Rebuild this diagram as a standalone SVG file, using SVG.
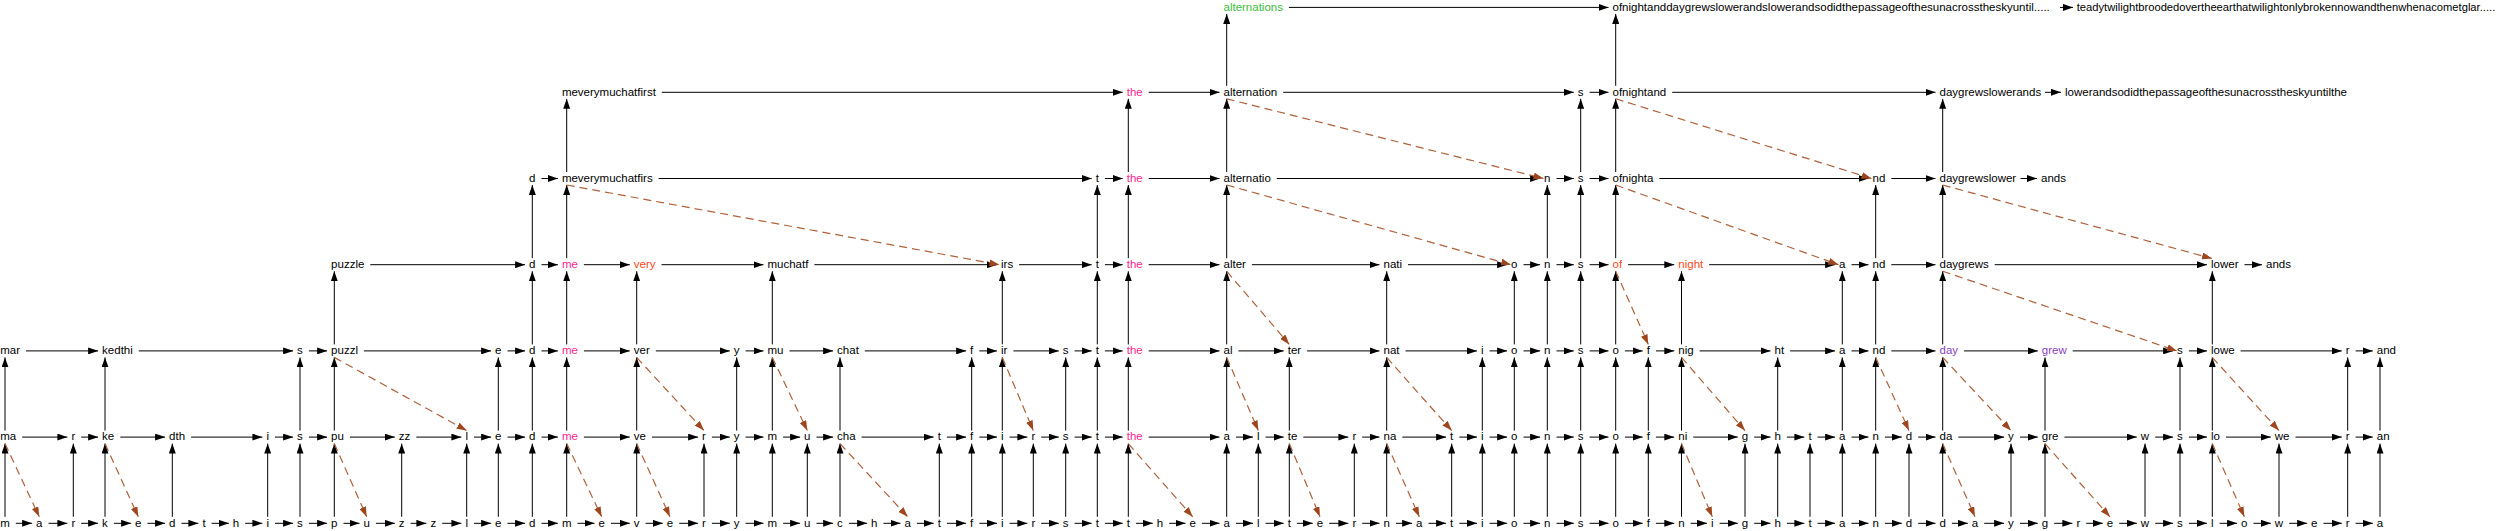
<svg xmlns="http://www.w3.org/2000/svg" width="2500" height="531" viewBox="0 0 2500 531">
<defs>
<style>
text{font-family:"Liberation Sans",Arial,sans-serif;font-size:11.5px;fill:#000}
.pk{fill:#ff1f8f}.or{fill:#ff4a1a}.pu{fill:#8a3fc8}.gr{fill:#3cbf3c}
.e{stroke:#000;stroke-width:1;fill:none;marker-end:url(#ah)}
.d{stroke:#b0603a;stroke-width:1.2;stroke-dasharray:8,5;fill:none;marker-end:url(#ahd)}
</style>
<marker id="ah" viewBox="0 0 10 7" refX="10" refY="3.5" markerWidth="10" markerHeight="7" markerUnits="userSpaceOnUse" orient="auto"><path d="M0,0L10,3.5L0,7z" fill="#000"/></marker>
<marker id="ahd" viewBox="0 0 10 7" refX="10" refY="3.5" markerWidth="10" markerHeight="7" markerUnits="userSpaceOnUse" orient="auto"><path d="M0,0L10,3.5L0,7z" fill="#a0461e"/></marker>
</defs>
<rect width="2500" height="531" fill="#fff"/>
<g id="edges">
<!-- row0 horizontal -->
<path class="e" d="M15.8 523.3H32.1"/><path class="e" d="M48.5 523.3H67.4"/><path class="e" d="M81.2 523.3H98.1"/><path class="e" d="M113.9 523.3H131.1"/><path class="e" d="M147.5 523.3H165.1"/><path class="e" d="M181.5 523.3H198.4"/><path class="e" d="M211.6 523.3H228.8"/><path class="e" d="M245.2 523.3H262.4"/><path class="e" d="M275 523.3H293.1"/><path class="e" d="M308.9 523.3H327.1"/><path class="e" d="M343.5 523.3H359.5"/><path class="e" d="M375.9 523.3H394.8"/><path class="e" d="M410.6 523.3H426.4"/><path class="e" d="M442.2 523.3H461.4"/><path class="e" d="M474 523.3H491.1"/><path class="e" d="M507.5 523.3H525.1"/><path class="e" d="M541.5 523.3H557.9"/><path class="e" d="M577.5 523.3H594.5"/><path class="e" d="M610.9 523.3H629.8"/><path class="e" d="M645.6 523.3H662.8"/><path class="e" d="M679.2 523.3H698.1"/><path class="e" d="M711.9 523.3H729.8"/><path class="e" d="M745.6 523.3H763.5"/><path class="e" d="M783.1 523.3H800.1"/><path class="e" d="M816.5 523.3H833.1"/><path class="e" d="M848.9 523.3H867.1"/><path class="e" d="M883.5 523.3H900.5"/><path class="e" d="M916.9 523.3H933.7"/><path class="e" d="M946.9 523.3H966.1"/><path class="e" d="M979.3 523.3H997"/><path class="e" d="M1009.6 523.3H1027.4"/><path class="e" d="M1041.2 523.3H1058.8"/><path class="e" d="M1074.6 523.3H1091.7"/><path class="e" d="M1104.9 523.3H1122.7"/><path class="e" d="M1135.9 523.3H1152.8"/><path class="e" d="M1169.2 523.3H1185.5"/><path class="e" d="M1201.9 523.3H1219.5"/><path class="e" d="M1235.9 523.3H1253"/><path class="e" d="M1265.6 523.3H1283.7"/><path class="e" d="M1296.9 523.3H1312.8"/><path class="e" d="M1329.2 523.3H1348.4"/><path class="e" d="M1362.2 523.3H1379.5"/><path class="e" d="M1395.9 523.3H1412.1"/><path class="e" d="M1428.5 523.3H1446.1"/><path class="e" d="M1459.3 523.3H1477"/><path class="e" d="M1489.6 523.3H1507.1"/><path class="e" d="M1523.5 523.3H1540.1"/><path class="e" d="M1556.5 523.3H1573.8"/><path class="e" d="M1589.6 523.3H1608.5"/><path class="e" d="M1624.9 523.3H1642.7"/><path class="e" d="M1655.9 523.3H1674.3"/><path class="e" d="M1690.7 523.3H1707"/><path class="e" d="M1719.6 523.3H1737.8"/><path class="e" d="M1754.2 523.3H1770.5"/><path class="e" d="M1786.9 523.3H1804.4"/><path class="e" d="M1817.6 523.3H1835.1"/><path class="e" d="M1851.5 523.3H1868.5"/><path class="e" d="M1884.9 523.3H1901.8"/><path class="e" d="M1918.2 523.3H1935.5"/><path class="e" d="M1951.9 523.3H1967.8"/><path class="e" d="M1984.2 523.3H2004.1"/><path class="e" d="M2019.9 523.3H2037.8"/><path class="e" d="M2054.2 523.3H2072.4"/><path class="e" d="M2086.2 523.3H2102.8"/><path class="e" d="M2119.2 523.3H2136.9"/><path class="e" d="M2155.2 523.3H2173.1"/><path class="e" d="M2188.9 523.3H2207"/><path class="e" d="M2219.6 523.3H2237.1"/><path class="e" d="M2253.5 523.3H2270.9"/><path class="e" d="M2289.2 523.3H2307.1"/><path class="e" d="M2323.5 523.3H2341.8"/><path class="e" d="M2355.6 523.3H2372.8"/>
<!-- row1 horizontal -->
<path class="e" d="M22.2 437.1H67.4"/><path class="e" d="M81.2 437.1H98.1"/><path class="e" d="M120.3 437.1H165.1"/><path class="e" d="M191.1 437.1H262.4"/><path class="e" d="M275 437.1H293.1"/><path class="e" d="M308.9 437.1H327.1"/><path class="e" d="M349.9 437.1H394.8"/><path class="e" d="M416.3 437.1H461.4"/><path class="e" d="M474 437.1H491.1"/><path class="e" d="M507.5 437.1H525.1"/><path class="e" d="M541.5 437.1H557.9"/><path class="e" d="M583.9 437.1H629.8"/><path class="e" d="M652 437.1H698.1"/><path class="e" d="M711.9 437.1H729.8"/><path class="e" d="M745.6 437.1H763.5"/><path class="e" d="M783.1 437.1H800.1"/><path class="e" d="M816.5 437.1H833.1"/><path class="e" d="M861.6 437.1H933.7"/><path class="e" d="M946.9 437.1H966.1"/><path class="e" d="M979.3 437.1H997"/><path class="e" d="M1009.6 437.1H1027.4"/><path class="e" d="M1041.2 437.1H1058.8"/><path class="e" d="M1074.6 437.1H1091.7"/><path class="e" d="M1104.9 437.1H1122.7"/><path class="e" d="M1148.7 437.1H1219.5"/><path class="e" d="M1235.9 437.1H1253"/><path class="e" d="M1265.6 437.1H1283.7"/><path class="e" d="M1303.3 437.1H1348.4"/><path class="e" d="M1362.2 437.1H1379.5"/><path class="e" d="M1402.3 437.1H1446.1"/><path class="e" d="M1459.3 437.1H1477"/><path class="e" d="M1489.6 437.1H1507.1"/><path class="e" d="M1523.5 437.1H1540.1"/><path class="e" d="M1556.5 437.1H1573.8"/><path class="e" d="M1589.6 437.1H1608.5"/><path class="e" d="M1624.9 437.1H1642.7"/><path class="e" d="M1655.9 437.1H1674.3"/><path class="e" d="M1693.2 437.1H1737.8"/><path class="e" d="M1754.2 437.1H1770.5"/><path class="e" d="M1786.9 437.1H1804.4"/><path class="e" d="M1817.6 437.1H1835.1"/><path class="e" d="M1851.5 437.1H1868.5"/><path class="e" d="M1884.9 437.1H1901.8"/><path class="e" d="M1918.2 437.1H1935.5"/><path class="e" d="M1958.3 437.1H2004.1"/><path class="e" d="M2019.9 437.1H2037.8"/><path class="e" d="M2064.4 437.1H2136.8"/><path class="e" d="M2155.2 437.1H2173.1"/><path class="e" d="M2188.9 437.1H2207"/><path class="e" d="M2225.9 437.1H2270.8"/><path class="e" d="M2295.5 437.1H2341.8"/><path class="e" d="M2355.6 437.1H2372.8"/>
<!-- row2 horizontal -->
<path class="e" d="M26 350.9H98.1"/><path class="e" d="M138.8 350.9H293.1"/><path class="e" d="M308.9 350.9H327.1"/><path class="e" d="M363.9 350.9H491.1"/><path class="e" d="M507.5 350.9H525.1"/><path class="e" d="M541.5 350.9H557.9"/><path class="e" d="M583.9 350.9H629.8"/><path class="e" d="M655.8 350.9H729.8"/><path class="e" d="M745.6 350.9H763.5"/><path class="e" d="M789.5 350.9H833.1"/><path class="e" d="M864.8 350.9H966.1"/><path class="e" d="M979.3 350.9H997"/><path class="e" d="M1013.4 350.9H1058.8"/><path class="e" d="M1074.6 350.9H1091.7"/><path class="e" d="M1104.9 350.9H1122.7"/><path class="e" d="M1148.7 350.9H1219.5"/><path class="e" d="M1238.4 350.9H1283.7"/><path class="e" d="M1307.1 350.9H1379.5"/><path class="e" d="M1405.5 350.9H1477"/><path class="e" d="M1489.6 350.9H1507.1"/><path class="e" d="M1523.5 350.9H1540.1"/><path class="e" d="M1556.5 350.9H1573.8"/><path class="e" d="M1589.6 350.9H1608.5"/><path class="e" d="M1624.9 350.9H1642.7"/><path class="e" d="M1655.9 350.9H1674.3"/><path class="e" d="M1699.6 350.9H1770.5"/><path class="e" d="M1790.1 350.9H1835.1"/><path class="e" d="M1851.5 350.9H1868.5"/><path class="e" d="M1891.3 350.9H1935.5"/><path class="e" d="M1964 350.9H2037.8"/><path class="e" d="M2072.7 350.9H2173.1"/><path class="e" d="M2188.9 350.9H2207"/><path class="e" d="M2240.6 350.9H2341.8"/><path class="e" d="M2355.6 350.9H2372.8"/>
<!-- row3 horizontal -->
<path class="e" d="M370.3 264.7H525.1"/><path class="e" d="M541.5 264.7H557.9"/><path class="e" d="M583.9 264.7H629.8"/><path class="e" d="M661.5 264.7H763.5"/><path class="e" d="M814.4 264.7H997"/><path class="e" d="M1019.1 264.7H1091.7"/><path class="e" d="M1104.9 264.7H1122.7"/><path class="e" d="M1148.7 264.7H1219.5"/><path class="e" d="M1251.9 264.7H1379.5"/><path class="e" d="M1408 264.7H1507.1"/><path class="e" d="M1523.5 264.7H1540.1"/><path class="e" d="M1556.5 264.7H1573.8"/><path class="e" d="M1589.6 264.7H1608.5"/><path class="e" d="M1628.1 264.7H1674.3"/><path class="e" d="M1709.2 264.7H1835.1"/><path class="e" d="M1851.5 264.7H1868.5"/><path class="e" d="M1891.3 264.7H1935.5"/><path class="e" d="M1994.7 264.7H2207"/><path class="e" d="M2244.5 264.7H2262"/>
<!-- row4 horizontal -->
<path class="e" d="M541.5 178.5H557.9"/><path class="e" d="M658.6 178.5H1091.7"/><path class="e" d="M1104.9 178.5H1122.7"/><path class="e" d="M1148.7 178.5H1219.5"/><path class="e" d="M1276.8 178.5H1540.1"/><path class="e" d="M1556.5 178.5H1573.8"/><path class="e" d="M1589.6 178.5H1608.5"/><path class="e" d="M1659.4 178.5H1868.5"/><path class="e" d="M1891.3 178.5H1935.5"/><path class="e" d="M2020.5 178.5H2037"/>
<!-- row5 horizontal -->
<path class="e" d="M661.8 92.3H1122.7"/><path class="e" d="M1148.7 92.3H1219.5"/><path class="e" d="M1283.2 92.3H1573.8"/><path class="e" d="M1589.6 92.3H1608.5"/><path class="e" d="M1672.2 92.3H1935.5"/><path class="e" d="M2045 92.3H2061"/>
<!-- row6 horizontal -->
<path class="e" d="M1288.9 7.4H1608.5"/><path class="e" d="M2060 7.4H2073"/>
<!-- verticals 0-1 -->
<path class="e" d="M5 516.8V443.6"/><path class="e" d="M73.3 516.8V443.6"/><path class="e" d="M105 516.8V443.6"/><path class="e" d="M172.3 516.8V443.6"/><path class="e" d="M267.7 516.8V443.6"/><path class="e" d="M300 516.8V443.6"/><path class="e" d="M334.3 516.8V443.6"/><path class="e" d="M401.7 516.8V443.6"/><path class="e" d="M466.7 516.8V443.6"/><path class="e" d="M498.3 516.8V443.6"/><path class="e" d="M532.3 516.8V443.6"/><path class="e" d="M566.7 516.8V443.6"/><path class="e" d="M636.7 516.8V443.6"/><path class="e" d="M704 516.8V443.6"/><path class="e" d="M736.7 516.8V443.6"/><path class="e" d="M772.3 516.8V443.6"/><path class="e" d="M807.3 516.8V443.6"/><path class="e" d="M840 516.8V443.6"/><path class="e" d="M939.3 516.8V443.6"/><path class="e" d="M971.7 516.8V443.6"/><path class="e" d="M1002.3 516.8V443.6"/><path class="e" d="M1033.3 516.8V443.6"/><path class="e" d="M1065.7 516.8V443.6"/><path class="e" d="M1097.3 516.8V443.6"/><path class="e" d="M1128.3 516.8V443.6"/><path class="e" d="M1226.7 516.8V443.6"/><path class="e" d="M1258.3 516.8V443.6"/><path class="e" d="M1289.3 516.8V443.6"/><path class="e" d="M1354.3 516.8V443.6"/><path class="e" d="M1386.7 516.8V443.6"/><path class="e" d="M1451.7 516.8V443.6"/><path class="e" d="M1482.3 516.8V443.6"/><path class="e" d="M1514.3 516.8V443.6"/><path class="e" d="M1547.3 516.8V443.6"/><path class="e" d="M1580.7 516.8V443.6"/><path class="e" d="M1615.7 516.8V443.6"/><path class="e" d="M1648.3 516.8V443.6"/><path class="e" d="M1681.5 516.8V443.6"/><path class="e" d="M1745 516.8V443.6"/><path class="e" d="M1777.7 516.8V443.6"/><path class="e" d="M1810 516.8V443.6"/><path class="e" d="M1842.3 516.8V443.6"/><path class="e" d="M1875.7 516.8V443.6"/><path class="e" d="M1909 516.8V443.6"/><path class="e" d="M1942.7 516.8V443.6"/><path class="e" d="M2011 516.8V443.6"/><path class="e" d="M2045 516.8V443.6"/><path class="e" d="M2145 516.8V443.6"/><path class="e" d="M2180 516.8V443.6"/><path class="e" d="M2212.3 516.8V443.6"/><path class="e" d="M2279 516.8V443.6"/><path class="e" d="M2347.7 516.8V443.6"/><path class="e" d="M2380 516.8V443.6"/>
<!-- verticals 1-2 -->
<path class="e" d="M5 430.6V357.4"/><path class="e" d="M105 430.6V357.4"/><path class="e" d="M300 430.6V357.4"/><path class="e" d="M334.3 430.6V357.4"/><path class="e" d="M498.3 430.6V357.4"/><path class="e" d="M532.3 430.6V357.4"/><path class="e" d="M566.7 430.6V357.4"/><path class="e" d="M636.7 430.6V357.4"/><path class="e" d="M736.7 430.6V357.4"/><path class="e" d="M772.3 430.6V357.4"/><path class="e" d="M840 430.6V357.4"/><path class="e" d="M971.7 430.6V357.4"/><path class="e" d="M1002.3 430.6V357.4"/><path class="e" d="M1065.7 430.6V357.4"/><path class="e" d="M1097.3 430.6V357.4"/><path class="e" d="M1128.3 430.6V357.4"/><path class="e" d="M1226.7 430.6V357.4"/><path class="e" d="M1289.3 430.6V357.4"/><path class="e" d="M1386.7 430.6V357.4"/><path class="e" d="M1482.3 430.6V357.4"/><path class="e" d="M1514.3 430.6V357.4"/><path class="e" d="M1547.3 430.6V357.4"/><path class="e" d="M1580.7 430.6V357.4"/><path class="e" d="M1615.7 430.6V357.4"/><path class="e" d="M1648.3 430.6V357.4"/><path class="e" d="M1681.5 430.6V357.4"/><path class="e" d="M1777.7 430.6V357.4"/><path class="e" d="M1842.3 430.6V357.4"/><path class="e" d="M1875.7 430.6V357.4"/><path class="e" d="M1942.7 430.6V357.4"/><path class="e" d="M2045 430.6V357.4"/><path class="e" d="M2180 430.6V357.4"/><path class="e" d="M2212.3 430.6V357.4"/><path class="e" d="M2347.7 430.6V357.4"/><path class="e" d="M2380 430.6V357.4"/>
<!-- verticals 2-3 -->
<path class="e" d="M334.3 344.4V271.2"/><path class="e" d="M532.3 344.4V271.2"/><path class="e" d="M566.7 344.4V271.2"/><path class="e" d="M636.7 344.4V271.2"/><path class="e" d="M772.3 344.4V271.2"/><path class="e" d="M1002.3 344.4V271.2"/><path class="e" d="M1097.3 344.4V271.2"/><path class="e" d="M1128.3 344.4V271.2"/><path class="e" d="M1226.7 344.4V271.2"/><path class="e" d="M1386.7 344.4V271.2"/><path class="e" d="M1514.3 344.4V271.2"/><path class="e" d="M1547.3 344.4V271.2"/><path class="e" d="M1580.7 344.4V271.2"/><path class="e" d="M1615.7 344.4V271.2"/><path class="e" d="M1681.5 344.4V271.2"/><path class="e" d="M1842.3 344.4V271.2"/><path class="e" d="M1875.7 344.4V271.2"/><path class="e" d="M1942.7 344.4V271.2"/><path class="e" d="M2212.3 344.4V271.2"/>
<!-- verticals 3-4 -->
<path class="e" d="M532.3 258.2V185"/><path class="e" d="M566.7 258.2V185"/><path class="e" d="M1097.3 258.2V185"/><path class="e" d="M1128.3 258.2V185"/><path class="e" d="M1226.7 258.2V185"/><path class="e" d="M1547.3 258.2V185"/><path class="e" d="M1580.7 258.2V185"/><path class="e" d="M1615.7 258.2V185"/><path class="e" d="M1875.7 258.2V185"/><path class="e" d="M1942.7 258.2V185"/>
<!-- verticals 4-5 -->
<path class="e" d="M566.7 172V98.8"/><path class="e" d="M1128.3 172V98.8"/><path class="e" d="M1226.7 172V98.8"/><path class="e" d="M1580.7 172V98.8"/><path class="e" d="M1615.7 172V98.8"/><path class="e" d="M1942.7 172V98.8"/>
<!-- verticals 5-6 -->
<path class="e" d="M1226.7 85.8V13.9"/><path class="e" d="M1615.7 85.8V13.9"/>
<!-- dashed -->
<path class="d" d="M5 443.6L39.3 516.8"/><path class="d" d="M105 443.6L138.3 516.8"/><path class="d" d="M334.3 443.6L366.7 516.8"/><path class="d" d="M566.7 443.6L601.7 516.8"/><path class="d" d="M636.7 443.6L670 516.8"/><path class="d" d="M840 443.6L907.7 516.8"/><path class="d" d="M1128.3 443.6L1192.7 516.8"/><path class="d" d="M1289.3 443.6L1320 516.8"/><path class="d" d="M1386.7 443.6L1419.3 516.8"/><path class="d" d="M1681.5 443.6L1712.3 516.8"/><path class="d" d="M1942.7 443.6L1975 516.8"/><path class="d" d="M2045 443.6L2110 516.8"/><path class="d" d="M2212.3 443.6L2244.3 516.8"/>
<path class="d" d="M334.3 357.4L466.7 430.6"/><path class="d" d="M636.7 357.4L704 430.6"/><path class="d" d="M772.3 357.4L807.3 430.6"/><path class="d" d="M1002.3 357.4L1033.3 430.6"/><path class="d" d="M1226.7 357.4L1258.3 430.6"/><path class="d" d="M1386.7 357.4L1451.7 430.6"/><path class="d" d="M1681.5 357.4L1745 430.6"/><path class="d" d="M1875.7 357.4L1909 430.6"/><path class="d" d="M1942.7 357.4L2011 430.6"/><path class="d" d="M2212.3 357.4L2279 430.6"/>
<path class="d" d="M1226.7 271.2L1289.3 344.4"/><path class="d" d="M1615.7 271.2L1648.3 344.4"/><path class="d" d="M1942.7 271.2L2177 350.9"/>
<path class="d" d="M566.7 185L999.5 264.7"/><path class="d" d="M1226.7 185L1511 264.7"/><path class="d" d="M1615.7 185L1838.5 264.7"/><path class="d" d="M1942.7 185L2212 258.5"/>
<path class="d" d="M1226.7 98.8L1543.5 178.5"/><path class="d" d="M1615.7 98.8L1871.5 178.5"/>
</g>
<g id="row0">
<g id="r0n0"><text x="0.2" y="526.6">m</text></g><g id="r0n1"><text x="36.1" y="526.6">a</text></g><g id="r0n2"><text x="71.4" y="526.6">r</text></g><g id="r0n3"><text x="102.1" y="526.6">k</text></g><g id="r0n4"><text x="135.1" y="526.6">e</text></g><g id="r0n5"><text x="169.1" y="526.6">d</text></g><g id="r0n6"><text x="202.4" y="526.6">t</text></g><g id="r0n7"><text x="232.8" y="526.6">h</text></g><g id="r0n8"><text x="266.4" y="526.6">i</text></g><g id="r0n9"><text x="297.1" y="526.6">s</text></g>
<g id="r0n10"><text x="331.1" y="526.6">p</text></g><g id="r0n11"><text x="363.5" y="526.6">u</text></g><g id="r0n12"><text x="398.8" y="526.6">z</text></g><g id="r0n13"><text x="430.4" y="526.6">z</text></g><g id="r0n14"><text x="465.4" y="526.6">l</text></g><g id="r0n15"><text x="495.1" y="526.6">e</text></g><g id="r0n16"><text x="529.1" y="526.6">d</text></g><g id="r0n17"><text x="561.9" y="526.6">m</text></g><g id="r0n18"><text x="598.5" y="526.6">e</text></g><g id="r0n19"><text x="633.8" y="526.6">v</text></g>
<g id="r0n20"><text x="666.8" y="526.6">e</text></g><g id="r0n21"><text x="702.1" y="526.6">r</text></g><g id="r0n22"><text x="733.8" y="526.6">y</text></g><g id="r0n23"><text x="767.5" y="526.6">m</text></g><g id="r0n24"><text x="804.1" y="526.6">u</text></g><g id="r0n25"><text x="837.1" y="526.6">c</text></g><g id="r0n26"><text x="871.1" y="526.6">h</text></g><g id="r0n27"><text x="904.5" y="526.6">a</text></g><g id="r0n28"><text x="937.7" y="526.6">t</text></g><g id="r0n29"><text x="970.1" y="526.6">f</text></g>
<g id="r0n30"><text x="1001" y="526.6">i</text></g><g id="r0n31"><text x="1031.4" y="526.6">r</text></g><g id="r0n32"><text x="1062.8" y="526.6">s</text></g><g id="r0n33"><text x="1095.7" y="526.6">t</text></g><g id="r0n34"><text x="1126.7" y="526.6">t</text></g><g id="r0n35"><text x="1156.8" y="526.6">h</text></g><g id="r0n36"><text x="1189.5" y="526.6">e</text></g><g id="r0n37"><text x="1223.5" y="526.6">a</text></g><g id="r0n38"><text x="1257" y="526.6">l</text></g><g id="r0n39"><text x="1287.7" y="526.6">t</text></g>
<g id="r0n40"><text x="1316.8" y="526.6">e</text></g><g id="r0n41"><text x="1352.4" y="526.6">r</text></g><g id="r0n42"><text x="1383.5" y="526.6">n</text></g><g id="r0n43"><text x="1416.1" y="526.6">a</text></g><g id="r0n44"><text x="1450.1" y="526.6">t</text></g><g id="r0n45"><text x="1481" y="526.6">i</text></g><g id="r0n46"><text x="1511.1" y="526.6">o</text></g><g id="r0n47"><text x="1544.1" y="526.6">n</text></g><g id="r0n48"><text x="1577.8" y="526.6">s</text></g><g id="r0n49"><text x="1612.5" y="526.6">o</text></g>
<g id="r0n50"><text x="1646.7" y="526.6">f</text></g><g id="r0n51"><text x="1678.3" y="526.6">n</text></g><g id="r0n52"><text x="1711" y="526.6">i</text></g><g id="r0n53"><text x="1741.8" y="526.6">g</text></g><g id="r0n54"><text x="1774.5" y="526.6">h</text></g><g id="r0n55"><text x="1808.4" y="526.6">t</text></g><g id="r0n56"><text x="1839.1" y="526.6">a</text></g><g id="r0n57"><text x="1872.5" y="526.6">n</text></g><g id="r0n58"><text x="1905.8" y="526.6">d</text></g><g id="r0n59"><text x="1939.5" y="526.6">d</text></g>
<g id="r0n60"><text x="1971.8" y="526.6">a</text></g><g id="r0n61"><text x="2008.1" y="526.6">y</text></g><g id="r0n62"><text x="2041.8" y="526.6">g</text></g><g id="r0n63"><text x="2076.4" y="526.6">r</text></g><g id="r0n64"><text x="2106.8" y="526.6">e</text></g><g id="r0n65"><text x="2140.8" y="526.6">w</text></g><g id="r0n66"><text x="2177.1" y="526.6">s</text></g><g id="r0n67"><text x="2211" y="526.6">l</text></g><g id="r0n68"><text x="2241.1" y="526.6">o</text></g><g id="r0n69"><text x="2274.8" y="526.6">w</text></g>
<g id="r0n70"><text x="2311.1" y="526.6">e</text></g><g id="r0n71"><text x="2345.8" y="526.6">r</text></g><g id="r0n72"><text x="2376.8" y="526.6">a</text></g>
</g>
<g id="row1">
<g id="r1n0"><text x="0.2" y="440.4">ma</text></g><g id="r1n2"><text x="71.4" y="440.4">r</text></g><g id="r1n3"><text x="102.1" y="440.4">ke</text></g><g id="r1n5"><text x="169.1" y="440.4">dth</text></g><g id="r1n8"><text x="266.4" y="440.4">i</text></g><g id="r1n9"><text x="297.1" y="440.4">s</text></g><g id="r1n10"><text x="331.1" y="440.4">pu</text></g><g id="r1n12"><text x="398.8" y="440.4">zz</text></g><g id="r1n14"><text x="465.4" y="440.4">l</text></g><g id="r1n15"><text x="495.1" y="440.4">e</text></g>
<g id="r1n16"><text x="529.1" y="440.4">d</text></g><g id="r1n17"><text class="pk" x="561.9" y="440.4">me</text></g><g id="r1n19"><text x="633.8" y="440.4">ve</text></g><g id="r1n21"><text x="702.1" y="440.4">r</text></g><g id="r1n22"><text x="733.8" y="440.4">y</text></g><g id="r1n23"><text x="767.5" y="440.4">m</text></g><g id="r1n24"><text x="804.1" y="440.4">u</text></g><g id="r1n25"><text x="837.1" y="440.4">cha</text></g><g id="r1n28"><text x="937.7" y="440.4">t</text></g><g id="r1n29"><text x="970.1" y="440.4">f</text></g>
<g id="r1n30"><text x="1001" y="440.4">i</text></g><g id="r1n31"><text x="1031.4" y="440.4">r</text></g><g id="r1n32"><text x="1062.8" y="440.4">s</text></g><g id="r1n33"><text x="1095.7" y="440.4">t</text></g><g id="r1n34"><text class="pk" x="1126.7" y="440.4">the</text></g><g id="r1n37"><text x="1223.5" y="440.4">a</text></g><g id="r1n38"><text x="1257" y="440.4">l</text></g><g id="r1n39"><text x="1287.7" y="440.4">te</text></g><g id="r1n41"><text x="1352.4" y="440.4">r</text></g><g id="r1n42"><text x="1383.5" y="440.4">na</text></g>
<g id="r1n44"><text x="1450.1" y="440.4">t</text></g><g id="r1n45"><text x="1481" y="440.4">i</text></g><g id="r1n46"><text x="1511.1" y="440.4">o</text></g><g id="r1n47"><text x="1544.1" y="440.4">n</text></g><g id="r1n48"><text x="1577.8" y="440.4">s</text></g><g id="r1n49"><text x="1612.5" y="440.4">o</text></g><g id="r1n50"><text x="1646.7" y="440.4">f</text></g><g id="r1n51"><text x="1678.3" y="440.4">ni</text></g><g id="r1n53"><text x="1741.8" y="440.4">g</text></g><g id="r1n54"><text x="1774.5" y="440.4">h</text></g>
<g id="r1n55"><text x="1808.4" y="440.4">t</text></g><g id="r1n56"><text x="1839.1" y="440.4">a</text></g><g id="r1n57"><text x="1872.5" y="440.4">n</text></g><g id="r1n58"><text x="1905.8" y="440.4">d</text></g><g id="r1n59"><text x="1939.5" y="440.4">da</text></g><g id="r1n61"><text x="2008.1" y="440.4">y</text></g><g id="r1n62"><text x="2041.8" y="440.4">gre</text></g><g id="r1n65"><text x="2140.8" y="440.4">w</text></g><g id="r1n66"><text x="2177.1" y="440.4">s</text></g><g id="r1n67"><text x="2211" y="440.4">lo</text></g>
<g id="r1n69"><text x="2274.8" y="440.4">we</text></g><g id="r1n71"><text x="2345.8" y="440.4">r</text></g><g id="r1n72"><text x="2376.8" y="440.4">an</text></g>
</g>
<g id="row2">
<g id="r2n0"><text x="0.2" y="354.2">mar</text></g><g id="r2n3"><text x="102.1" y="354.2">kedthi</text></g><g id="r2n9"><text x="297.1" y="354.2">s</text></g><g id="r2n10"><text x="331.1" y="354.2">puzzl</text></g><g id="r2n15"><text x="495.1" y="354.2">e</text></g><g id="r2n16"><text x="529.1" y="354.2">d</text></g><g id="r2n17"><text class="pk" x="561.9" y="354.2">me</text></g><g id="r2n19"><text x="633.8" y="354.2">ver</text></g><g id="r2n22"><text x="733.8" y="354.2">y</text></g><g id="r2n23"><text x="767.5" y="354.2">mu</text></g>
<g id="r2n25"><text x="837.1" y="354.2">chat</text></g><g id="r2n29"><text x="970.1" y="354.2">f</text></g><g id="r2n30"><text x="1001" y="354.2">ir</text></g><g id="r2n32"><text x="1062.8" y="354.2">s</text></g><g id="r2n33"><text x="1095.7" y="354.2">t</text></g><g id="r2n34"><text class="pk" x="1126.7" y="354.2">the</text></g><g id="r2n37"><text x="1223.5" y="354.2">al</text></g><g id="r2n39"><text x="1287.7" y="354.2">ter</text></g><g id="r2n42"><text x="1383.5" y="354.2">nat</text></g><g id="r2n45"><text x="1481" y="354.2">i</text></g>
<g id="r2n46"><text x="1511.1" y="354.2">o</text></g><g id="r2n47"><text x="1544.1" y="354.2">n</text></g><g id="r2n48"><text x="1577.8" y="354.2">s</text></g><g id="r2n49"><text x="1612.5" y="354.2">o</text></g><g id="r2n50"><text x="1646.7" y="354.2">f</text></g><g id="r2n51"><text x="1678.3" y="354.2">nig</text></g><g id="r2n54"><text x="1774.5" y="354.2">ht</text></g><g id="r2n56"><text x="1839.1" y="354.2">a</text></g><g id="r2n57"><text x="1872.5" y="354.2">nd</text></g><g id="r2n59"><text class="pu" x="1939.5" y="354.2">day</text></g>
<g id="r2n62"><text class="pu" x="2041.8" y="354.2">grew</text></g><g id="r2n66"><text x="2177.1" y="354.2">s</text></g><g id="r2n67"><text x="2211" y="354.2">lowe</text></g><g id="r2n71"><text x="2345.8" y="354.2">r</text></g><g id="r2n72"><text x="2376.8" y="354.2">and</text></g>
</g>
<g id="row3">
<g id="r3n10"><text x="331.1" y="268">puzzle</text></g><g id="r3n16"><text x="529.1" y="268">d</text></g><g id="r3n17"><text class="pk" x="561.9" y="268">me</text></g><g id="r3n19"><text class="or" x="633.8" y="268">very</text></g><g id="r3n23"><text x="767.5" y="268">muchatf</text></g><g id="r3n30"><text x="1001" y="268">irs</text></g><g id="r3n33"><text x="1095.7" y="268">t</text></g><g id="r3n34"><text class="pk" x="1126.7" y="268">the</text></g><g id="r3n37"><text x="1223.5" y="268">alter</text></g><g id="r3n42"><text x="1383.5" y="268">nati</text></g>
<g id="r3n46"><text x="1511.1" y="268">o</text></g><g id="r3n47"><text x="1544.1" y="268">n</text></g><g id="r3n48"><text x="1577.8" y="268">s</text></g><g id="r3n49"><text class="or" x="1612.5" y="268">of</text></g><g id="r3n51"><text class="or" x="1678.3" y="268">night</text></g><g id="r3n56"><text x="1839.1" y="268">a</text></g><g id="r3n57"><text x="1872.5" y="268">nd</text></g><g id="r3n59"><text x="1939.5" y="268">daygrews</text></g><g id="r3n67"><text x="2211" y="268">lower</text></g><g id="r3x"><text x="2266" y="268">ands</text></g>
</g>
<g id="row4">
<g id="r4n16"><text x="529.1" y="181.8">d</text></g><g id="r4n17"><text x="561.9" y="181.8">meverymuchatfirs</text></g><g id="r4n33"><text x="1095.7" y="181.8">t</text></g><g id="r4n34"><text class="pk" x="1126.7" y="181.8">the</text></g><g id="r4n37"><text x="1223.5" y="181.8">alternatio</text></g><g id="r4n47"><text x="1544.1" y="181.8">n</text></g><g id="r4n48"><text x="1577.8" y="181.8">s</text></g><g id="r4n49"><text x="1612.5" y="181.8">ofnighta</text></g><g id="r4n57"><text x="1872.5" y="181.8">nd</text></g><g id="r4n59"><text x="1939.5" y="181.8">daygrewslower</text></g><g id="r4x"><text x="2041" y="181.8">ands</text></g>
</g>
<g id="row5">
<g id="r5n17"><text x="561.9" y="95.6">meverymuchatfirst</text></g><g id="r5n34"><text class="pk" x="1126.7" y="95.6">the</text></g><g id="r5n37"><text x="1223.5" y="95.6">alternation</text></g><g id="r5n48"><text x="1577.8" y="95.6">s</text></g><g id="r5n49"><text x="1612.5" y="95.6">ofnightand</text></g><g id="r5n59"><text x="1939.5" y="95.6">daygrewslowerands</text></g><g id="r5x"><text x="2065" y="95.6">lowerandsodidthepassageofthesunacrosstheskyuntilthe</text></g>
</g>
<g id="row6">
<g id="r6n37"><text class="gr" x="1223.5" y="10.8">alternations</text></g><g id="r6n49"><text x="1612.5" y="10.8">ofnightanddaygrewslowerandslowerandsodidthepassageofthesunacrosstheskyuntil.....</text></g><g id="r6x"><text x="2076.7" y="10.8" style="font-size:11.2px">teadytwilightbroodedovertheearthatwilightonlybrokennowandthenwhenacometglar.....</text></g>
</g>
</svg>
